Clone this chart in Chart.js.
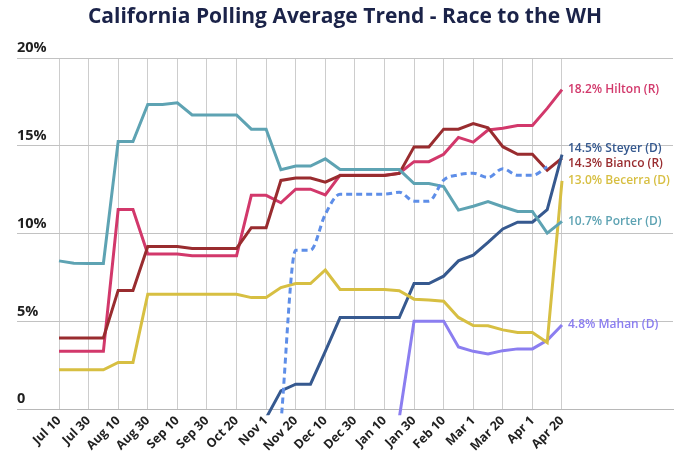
<!DOCTYPE html>
<html>
<head>
<meta charset="utf-8">
<script src="https://cdn.jsdelivr.net/npm/chart.js@4.4.1/dist/chart.umd.min.js"></script>
<style>
  html, body { margin: 0; padding: 0; background: #fff; }
  canvas { display: block; }
</style>
</head>
<body>
<canvas id="chart" width="680" height="462"></canvas>
<script>
// tick labels on the x axis (one per gridline, data points sit at half steps)
const xLabels = ['Jul 10', 'Jul 30', 'Aug 10', 'Aug 30', 'Sep 10', 'Sep 30', 'Oct 20', 'Nov 1', 'Nov 20',
	'Dec 10', 'Dec 30', 'Jan 10', 'Jan 30', 'Feb 10', 'Mar 1', 'Mar 20', 'Apr 1', 'Apr 20'];

const yTicks = [0, 5, 10, 15, 20];

const hilton = [3.3, 3.3, 3.3, 3.3, 11.37, 11.37, 8.84, 8.84, 8.84, 8.74, 8.74, 8.74, 8.74, 12.18, 12.18, 11.76, 12.53, 12.53,
	12.2, 13.33, 13.33, 13.33, 13.33, 13.44, 14.1, 14.1, 14.52, 15.48, 15.21, 15.9, 16.0, 16.16, 16.16, 17.13, 18.2];

const bianco = [4.06, 4.06, 4.06, 4.06, 6.77, 6.77, 9.27, 9.27, 9.27, 9.16, 9.16, 9.16, 9.16, 10.34, 10.34, 13.03, 13.17, 13.17,
	12.93, 13.31, 13.31, 13.31, 13.31, 13.43, 14.94, 14.94, 15.95, 15.95, 16.27, 16.02, 14.95, 14.52, 14.52, 13.61, 14.3];

const steyer = [null, null, null, null, null, null, null, null, null, null, null, null, null, null, -0.5, 1.05, 1.43, 1.43,
	3.3, 5.22, 5.22, 5.22, 5.22, 5.22, 7.16, 7.16, 7.58, 8.45, 8.78, 9.5, 10.27, 10.65, 10.65, 11.37, 14.5];

const becerra = [2.25, 2.25, 2.25, 2.25, 2.67, 2.67, 6.55, 6.55, 6.55, 6.55, 6.55, 6.55, 6.55, 6.36, 6.36, 6.93, 7.16, 7.16,
	7.93, 6.82, 6.82, 6.82, 6.82, 6.75, 6.27, 6.22, 6.15, 5.23, 4.77, 4.75, 4.52, 4.37, 4.37, 3.8, 13.0];

const porter = [8.45, 8.32, 8.3, 8.3, 15.25, 15.25, 17.35, 17.35, 17.45, 16.76, 16.76, 16.76, 16.76, 15.95, 15.95, 13.64, 13.85, 13.85,
	14.26, 13.65, 13.65, 13.65, 13.65, 13.65, 12.85, 12.85, 12.68, 11.34, 11.56, 11.83, 11.53, 11.26, 11.26, 10.03, 10.7];

const mahan = [null, null, null, null, null, null, null, null, null, null, null, null, null, null, null, null, null, null,
	null, null, null, null, null, -0.5, 5.02, 5.02, 5.02, 3.55, 3.3, 3.15, 3.34, 3.44, 3.44, 3.93, 4.8];

// dashed line, no end label in the original
const dashed = [null, null, null, null, null, null, null, null, null, null, null, null, null, null, null, -0.8, 9.06, 9.06,
	11.1, 12.25, 12.25, 12.25, 12.25, 12.36, 11.85, 11.85, 13.05, 13.35, 13.44, 13.2, 13.7, 13.32, 13.32, 13.8, null];

const FONT = '"Open Sans", "DejaVu Sans", sans-serif';

function toPoints(values) {
	return values.map((v, i) => ({ x: i, y: v }));
}

function line(label, values, color, extra) {
	return Object.assign({
		label: label,
		data: toPoints(values),
		borderColor: color,
		backgroundColor: color,
		borderWidth: 3,
		pointRadius: 0,
		tension: 0,
		fill: false,
		clip: { left: false, top: false, right: false, bottom: 6 }
	}, extra || {});
}

// end labels next to the last point of each named line
const endLabels = {
	id: 'endLabels',
	afterDatasetsDraw(chart) {
		const { ctx, scales: { x, y } } = chart;
		const nudge = { 'Steyer (D)': -6, 'Bianco (R)': 5.5 };
		ctx.save();
		ctx.font = '600 12px ' + FONT;
		ctx.textAlign = 'left';
		ctx.textBaseline = 'middle';
		chart.data.datasets.forEach((ds) => {
			if (!ds.endLabel) return;
			const last = ds.data[ds.data.length - 1];
			const px = x.getPixelForValue(last.x) + 6;
			const py = y.getPixelForValue(last.y) + (nudge[ds.label] || 0);
			ctx.fillStyle = ds.borderColor;
			ctx.fillText(last.y.toFixed(1) + '% ' + ds.label, px, py);
		});
		ctx.restore();
	}
};

const config = {
	type: 'line',
	data: {
		datasets: [
			line('', dashed, '#5e8ee8', { borderDash: [6, 4], cubicInterpolationMode: 'monotone' }),
			line('Porter (D)', porter, '#5ea3b3', { endLabel: true }),
			line('Becerra (D)', becerra, '#d7bf42', { endLabel: true }),
			line('Mahan (D)', mahan, '#8b7ef0', { endLabel: true }),
			line('Steyer (D)', steyer, '#36598f', { endLabel: true }),
			line('Bianco (R)', bianco, '#992c2f', { endLabel: true }),
			line('Hilton (R)', hilton, '#d2386b', { endLabel: true })
		]
	},
	options: {
		responsive: false,
		animation: false,
		devicePixelRatio: 1,
		layout: {
			padding: { left: 17, right: 7, top: 0, bottom: 4 }
		},
		plugins: {
			legend: { display: false },
			tooltip: { enabled: false },
			title: {
				display: true,
				text: 'California Polling Average Trend - Race to the WH',
				color: '#1b2349',
				font: { family: FONT, size: 21, weight: 'bold' },
				padding: { top: 4, bottom: 28.8 }
			}
		},
		scales: {
			x: {
				type: 'linear',
				min: -2.839,
				max: 41.503,
				afterBuildTicks(scale) {
					scale.ticks = xLabels.map((_, i) => ({ value: i * 2 }));
				},
				grid: { color: '#cdcdcd', lineWidth: 1, drawTicks: false },
				border: { display: true, color: '#b8b8b8', width: 1 },
				ticks: {
					autoSkip: false,
					minRotation: 45,
					maxRotation: 45,
					padding: 4,
					color: '#1f1f1f',
					font: { family: FONT, size: 12.5, weight: 'bold' },
					callback: (v) => xLabels[v / 2]
				}
			},
			y: {
				min: 0,
				max: 20,
				afterBuildTicks(scale) {
					scale.ticks = yTicks.map((v) => ({ value: v }));
				},
				grid: { color: '#c2c2c2', lineWidth: 1, drawTicks: false },
				border: { display: false },
				ticks: {
					mirror: true,
					padding: 0,
					labelOffset: -10,
					color: '#1f1f1f',
					font: { family: FONT, size: 14.5, weight: 'bold' },
					callback: (v) => v === 0 ? '0' : v + '%'
				}
			}
		}
	},
	plugins: [endLabels]
};

new Chart(document.getElementById('chart'), config);
</script>
</body>
</html>
